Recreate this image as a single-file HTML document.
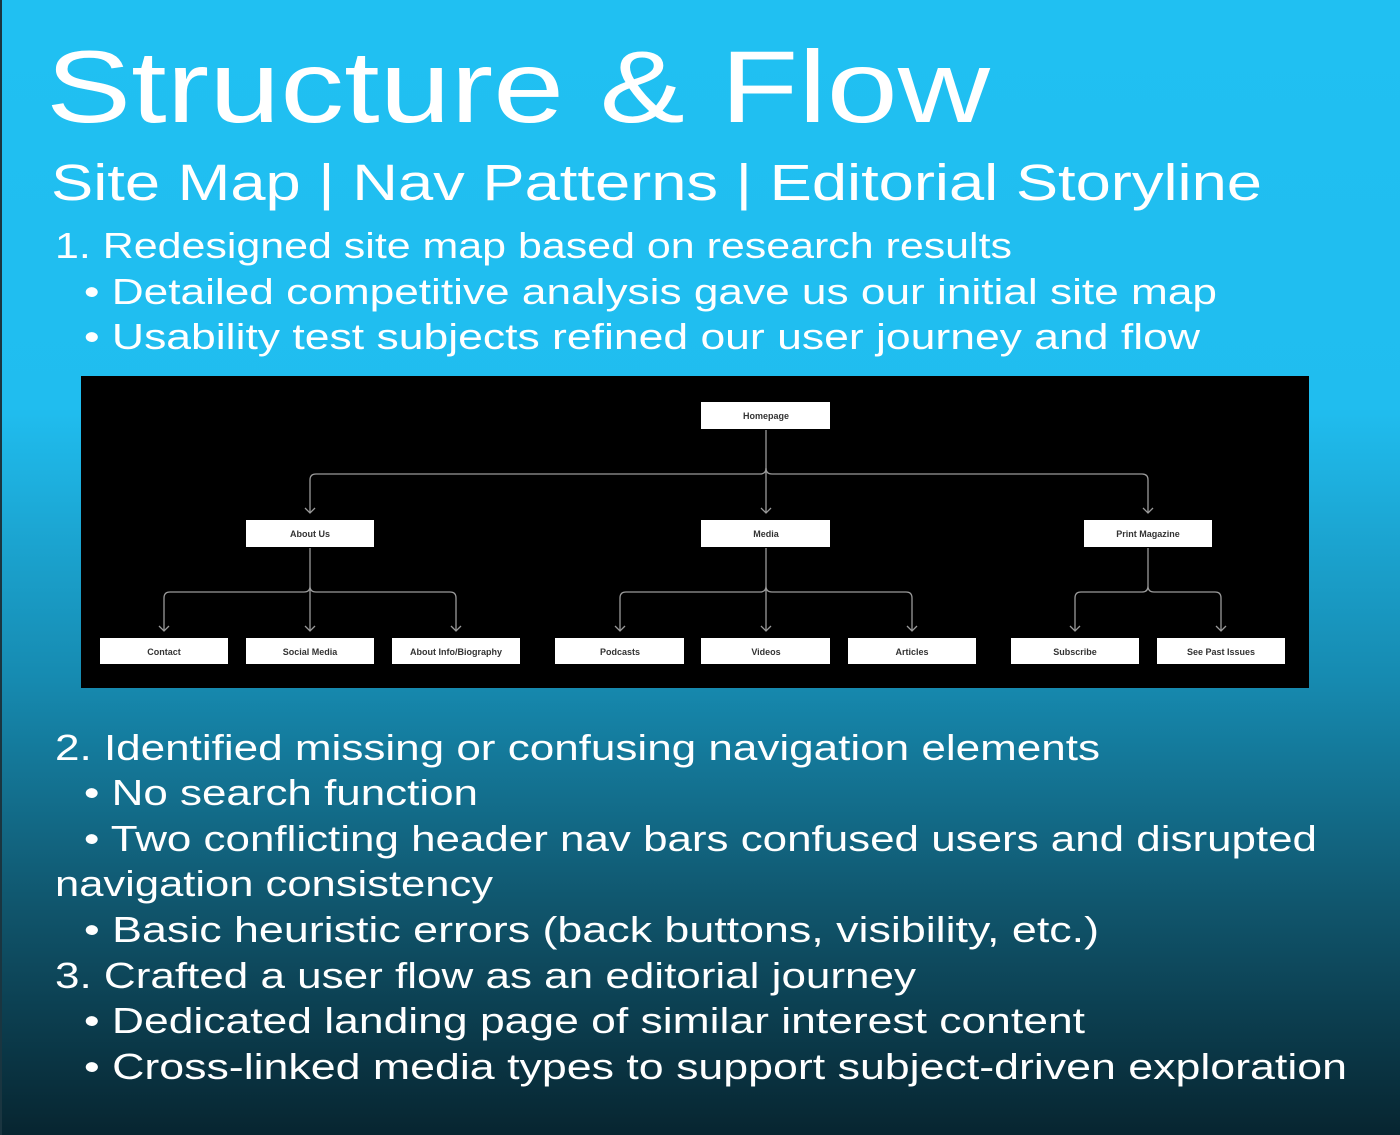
<!DOCTYPE html>
<html><head><meta charset="utf-8"><style>
html,body{margin:0;padding:0;width:1400px;height:1135px;overflow:hidden}
svg{display:block}
.t{font-family:"Liberation Sans",sans-serif;fill:#fff}
.n{font-family:"Liberation Sans",sans-serif;font-size:9px;font-weight:bold;fill:#333;text-anchor:middle}
</style></head><body>
<svg width="1400" height="1135" viewBox="0 0 1400 1135" xmlns="http://www.w3.org/2000/svg">
<defs>
<linearGradient id="bg" x1="0" y1="0" x2="0" y2="1">
<stop offset="0" stop-color="#20c0f2"/>
<stop offset="0.36" stop-color="#20bdef"/>
<stop offset="0.6" stop-color="#168ab0"/>
<stop offset="0.8" stop-color="#10556c"/>
<stop offset="1" stop-color="#072530"/>
</linearGradient>
</defs>
<rect width="1400" height="1135" fill="url(#bg)"/>
<rect x="0" y="0" width="2" height="1135" fill="#1a3540"/>
<text class="t" x="46" y="122" font-size="102" textLength="944" lengthAdjust="spacingAndGlyphs">Structure &amp; Flow</text>
<text class="t" x="51" y="200" font-size="51" textLength="1211" lengthAdjust="spacingAndGlyphs">Site Map | Nav Patterns | Editorial Storyline</text>
<g class="t" font-size="36">
<text x="55" y="258" textLength="957" lengthAdjust="spacingAndGlyphs">1. Redesigned site map based on research results</text>
<text x="84" y="304" textLength="1133" lengthAdjust="spacingAndGlyphs">• Detailed competitive analysis gave us our initial site map</text>
<text x="84" y="349" textLength="1116" lengthAdjust="spacingAndGlyphs">• Usability test subjects refined our user journey and flow</text>
<text x="55" y="760" textLength="1045" lengthAdjust="spacingAndGlyphs">2. Identified missing or confusing navigation elements</text>
<text x="84" y="805" textLength="394" lengthAdjust="spacingAndGlyphs">• No search function</text>
<text x="84" y="851" textLength="1233" lengthAdjust="spacingAndGlyphs">• Two conflicting header nav bars confused users and disrupted</text>
<text x="55" y="896" textLength="438" lengthAdjust="spacingAndGlyphs">navigation consistency</text>
<text x="84" y="942" textLength="1015" lengthAdjust="spacingAndGlyphs">• Basic heuristic errors (back buttons, visibility, etc.)</text>
<text x="55" y="988" textLength="861" lengthAdjust="spacingAndGlyphs">3. Crafted a user flow as an editorial journey</text>
<text x="84" y="1033" textLength="1001" lengthAdjust="spacingAndGlyphs">• Dedicated landing page of similar interest content</text>
<text x="84" y="1079" textLength="1263" lengthAdjust="spacingAndGlyphs">• Cross-linked media types to support subject-driven exploration</text>
</g>
<rect x="81" y="376" width="1228" height="312" fill="#000"/>
<g fill="none" stroke="#9a9a9a" stroke-width="1.3">
<path d="M766 430V513"/>
<path d="M310 513V480q0-6 6-6H760q6 0 6-6q0 6 6 6H1142q6 0 6 6V513"/>
<path d="M310 548V631M164 631V598q0-6 6-6H304q6 0 6-6q0 6 6 6H450q6 0 6 6V631"/>
<path d="M766 548V631M620 631V598q0-6 6-6H760q6 0 6-6q0 6 6 6H906q6 0 6 6V631"/>
<path d="M1148 548V586q0 6-6 6H1081q-6 0-6 6V631M1148 586q0 6 6 6H1215q6 0 6 6V631"/>
<path d="M305 508l5 5 5-5M761 508l5 5 5-5M1143 508l5 5 5-5M159 626l5 5 5-5M305 626l5 5 5-5M451 626l5 5 5-5M615 626l5 5 5-5M761 626l5 5 5-5M907 626l5 5 5-5M1070 626l5 5 5-5M1216 626l5 5 5-5"/>
</g>
<g fill="#fff">
<rect x="701" y="402" width="129" height="27"/>
<rect x="246" y="520" width="128" height="27"/>
<rect x="701" y="520" width="129" height="27"/>
<rect x="1084" y="520" width="128" height="27"/>
<rect x="100" y="638" width="128" height="26"/>
<rect x="246" y="638" width="128" height="26"/>
<rect x="392" y="638" width="128" height="26"/>
<rect x="555" y="638" width="129" height="26"/>
<rect x="701" y="638" width="129" height="26"/>
<rect x="848" y="638" width="128" height="26"/>
<rect x="1011" y="638" width="128" height="26"/>
<rect x="1157" y="638" width="128" height="26"/>
</g>
<text class="n" x="766" y="419">Homepage</text>
<text class="n" x="310" y="537">About Us</text>
<text class="n" x="766" y="537">Media</text>
<text class="n" x="1148" y="537">Print Magazine</text>
<text class="n" x="164" y="655">Contact</text>
<text class="n" x="310" y="655">Social Media</text>
<text class="n" x="456" y="655">About Info/Biography</text>
<text class="n" x="620" y="655">Podcasts</text>
<text class="n" x="766" y="655">Videos</text>
<text class="n" x="912" y="655">Articles</text>
<text class="n" x="1075" y="655">Subscribe</text>
<text class="n" x="1221" y="655">See Past Issues</text>
</svg>
</body></html>
